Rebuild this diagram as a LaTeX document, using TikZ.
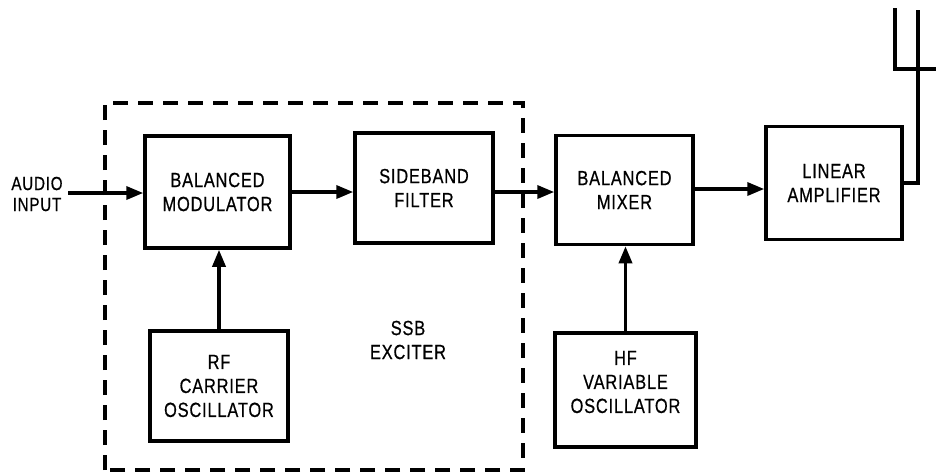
\documentclass[tikz,border=0pt]{standalone}
\usepackage{fontspec}
\setmainfont[FakeStretch=0.8,LetterSpace=4,FakeBold=0.6]{Liberation Sans}
\usetikzlibrary{arrows.meta}
\begin{document}
\begin{tikzpicture}[x=1pt,y=-1pt,
  blk/.style={draw,line width=3.5pt,inner sep=0pt,align=center,
    font=\fontsize{20.5}{24}\selectfont},
  lbl/.style={inner sep=0pt,align=center,font=\fontsize{20.5}{24}\selectfont},
  wire/.style={line width=3.5pt},
  arr/.style={line width=3.5pt,-{Triangle[length=17pt,width=13pt]}},
  exciter/.style={line width=3.5pt,dash pattern=on 15pt off 10pt}]
\useasboundingbox (0,0) rectangle (936,475);
% boxes
\node[blk,minimum width=145pt,minimum height=112pt] (mod) at (217.5,192) {BALANCED\\MODULATOR};
\node[blk,minimum width=138pt,minimum height=110pt] (filt) at (424,188) {SIDEBAND\\FILTER};
\node[blk,minimum width=137pt,minimum height=109pt] (mix) at (624.5,190) {BALANCED\\MIXER};
\node[blk,minimum width=136pt,minimum height=113pt] (lin) at (834,183) {LINEAR\\AMPLIFIER};
\node[blk,minimum width=138pt,minimum height=110pt] (rf) at (219,386) {RF\\CARRIER\\OSCILLATOR};
\node[blk,minimum width=141pt,minimum height=114pt] (hf) at (625.5,390) {};
\node[lbl] (hft) at (625.5,382) {HF\\VARIABLE\\OSCILLATOR};
% exciter boundary
\draw[exciter] (105,470) -- (105,103) -- (523,103) -- (523,470) -- cycle;
\node[lbl] (ssb) at (408,340) {SSB\\EXCITER};
\node[lbl,font=\fontsize{19}{21}\selectfont] (ain) at (37,194) {AUDIO\\INPUT};
% connectors
\coordinate (ainend) at (68,193);
\draw[arr] (ainend) -- (ainend -| mod.west);
\coordinate (m2f) at (290,192);
\draw[arr] (m2f) -- (m2f -| filt.west);
\coordinate (f2m) at (493,192);
\draw[arr] (f2m) -- (f2m -| mix.west);
\coordinate (m2l) at (693,189);
\draw[arr] (m2l) -- (m2l -| lin.west);
\draw[arr] (rf.north) -- (rf.north |- mod.south);
\draw[arr] (hf.north) -- (hf.north |- mix.south);
% output to antenna
\coordinate (ant) at (918,10);
\draw[wire] (lin.east) -- (lin.east -| ant) -- (ant);
\coordinate (antl) at (895,8);
\coordinate (antr) at (936,69);
\draw[wire] (antl) -- (antl |- antr) -- (antr);
\end{tikzpicture}
\end{document}
